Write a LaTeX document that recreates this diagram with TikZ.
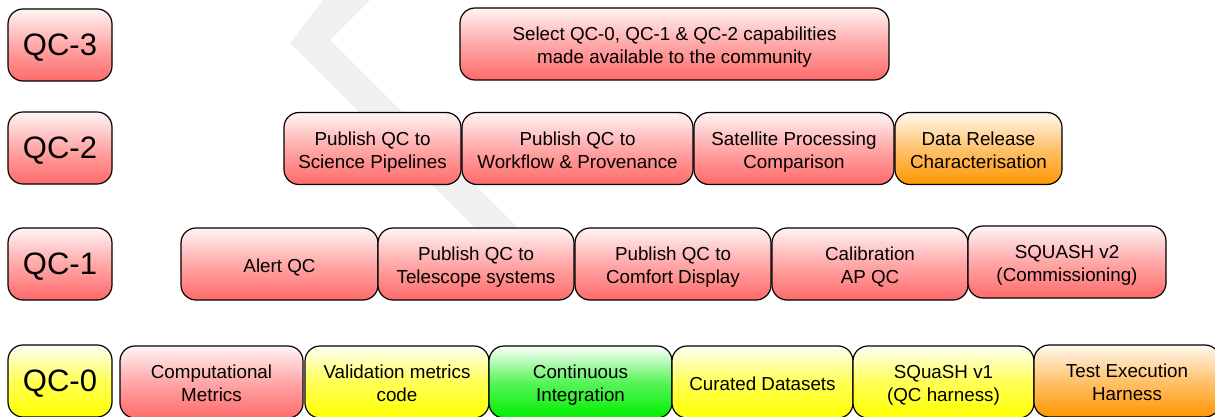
\documentclass[tikz,border=0pt]{standalone}
\usepackage{fontspec}
\setmainfont{Liberation Sans}
\usepackage{tikz}
\usetikzlibrary{positioning}
\definecolor{redtop}{HTML}{FFF4F4}
\definecolor{redbot}{HTML}{FF6A6A}
\definecolor{yeltop}{HTML}{FFFFF6}
\definecolor{yelbot}{HTML}{FFFF00}
\definecolor{grntop}{HTML}{FFFFFF}
\definecolor{grnbot}{HTML}{00EE00}
\definecolor{orgtop}{HTML}{FFF8F0}
\definecolor{orgbot}{HTML}{FF9600}
\definecolor{wmark}{HTML}{F0F0F0}
\newcommand{\boxtxt}[1]{\raisebox{-3.5pt}[\height][\depth]{\begin{tabular}{@{}c@{}}#1\end{tabular}}}
\tikzset{
  box/.style={draw=black, line width=1.2pt, rounded corners=15pt,
    inner sep=0pt, outer sep=0pt, minimum height=72pt, font=\fontsize{18.8}{23}\selectfont},
  lvl/.style={box, minimum width=104pt, font=\fontsize{31}{36}\selectfont},
  redfill/.style={top color=redtop, bottom color=redbot, middle color=redbot!55!redtop},
  yelfill/.style={top color=yeltop, bottom color=yelbot, middle color=yelbot!65!yeltop},
  grnfill/.style={top color=grntop, bottom color=grnbot, middle color=grnbot!65!grntop},
  orgfill/.style={top color=orgtop, bottom color=orgbot, middle color=orgbot!55!orgtop},
}
\begin{document}
\begin{tikzpicture}[x=1pt, y=-1pt]
\clip (0,0) rectangle (1215,417);
% watermark
\fill[wmark] (323,0) -- (290,43) -- (482,235) -- (525,235) -- (330,40) -- (370,0) -- cycle;
% QC-3
\node[lvl, redfill] (qc3) at (60,45) {\boxtxt{QC-3}};
\node[box, redfill, minimum width=429pt] (comm) at (674.5,44) {\boxtxt{Select QC-0, QC-1 \& QC-2 capabilities\\made available to the community}};
% QC-2
\node[lvl, redfill] (qc2) at (60,148) {\boxtxt{QC-2}};
\node[box, redfill, minimum width=177pt] (pubsp) at (372.5,148.5) {\boxtxt{Publish QC to\\Science Pipelines}};
\node[box, redfill, minimum width=231pt] (pubwf) at (577.5,148.5) {\boxtxt{Publish QC to\\Workflow \& Provenance}};
\node[box, redfill, minimum width=200pt] (sat) at (794,148.5) {\boxtxt{Satellite Processing\\Comparison}};
\node[box, orgfill, minimum width=167pt] (drc) at (978.5,148.5) {\boxtxt{Data Release\\Characterisation}};
% QC-1
\node[lvl, redfill] (qc1) at (60,264) {\boxtxt{QC-1}};
\node[box, redfill, minimum width=197pt] (alert) at (279.5,264) {\boxtxt{Alert QC}};
\node[box, redfill, minimum width=196pt] (pubtel) at (476,264) {\boxtxt{Publish QC to\\Telescope systems}};
\node[box, redfill, minimum width=196pt] (pubcd) at (673,264) {\boxtxt{Publish QC to\\Comfort Display}};
\node[box, redfill, minimum width=196pt] (calib) at (870,264) {\boxtxt{Calibration\\AP QC}};
\node[box, redfill, minimum width=198pt] (sqv2) at (1067,262) {\boxtxt{SQUASH v2\\(Commissioning)}};
% QC-0
\node[lvl, yelfill] (qc0) at (60,381) {\boxtxt{QC-0}};
\node[box, redfill, minimum width=183pt] (compm) at (211.5,382) {\boxtxt{Computational\\Metrics}};
\node[box, yelfill, minimum width=184pt] (valm) at (397,382) {\boxtxt{Validation metrics\\code}};
\node[box, grnfill, minimum width=183pt] (ci) at (580.5,382) {\boxtxt{Continuous\\Integration}};
\node[box, yelfill, minimum width=181pt] (cur) at (762.5,382) {\boxtxt{Curated Datasets}};
\node[box, yelfill, minimum width=181pt] (sqv1) at (943.5,382) {\boxtxt{SQuaSH v1\\(QC harness)}};
\node[box, orgfill, minimum width=186pt] (tex) at (1127,381) {\boxtxt{Test Execution\\Harness}};
\end{tikzpicture}
\end{document}
